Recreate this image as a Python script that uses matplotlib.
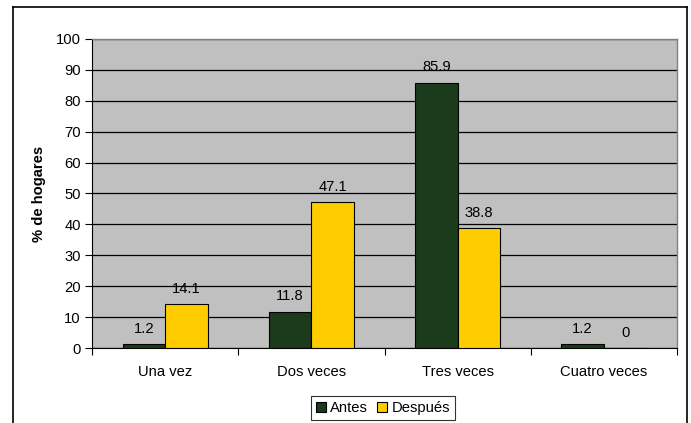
import matplotlib
matplotlib.use("Agg")
import matplotlib.pyplot as plt
import numpy as np
from matplotlib.lines import Line2D

categories = ["Una vez", "Dos veces", "Tres veces", "Cuatro veces"]
antes = [1.2, 11.8, 85.9, 1.2]
despues = [14.1, 47.1, 38.8, 0]
series_names = ["Antes", "Después"]
yticks = list(range(0, 101, 10))

plt.rcParams['font.family'] = ['Liberation Sans', 'DejaVu Sans']
FS = 10.6

fig = plt.figure(figsize=(6.91, 4.23), dpi=100)
ax = fig.add_axes([92/691, 1-348/423, (677-92)/691, (348-39)/423])
ax.set_facecolor('#C0C0C0')

x = np.arange(len(categories))
w = 0.29
c_antes = '#1C3A1C'
c_desp = '#FFCC00'
b1 = ax.bar(x - w/2, antes, w, color=c_antes, edgecolor='black', linewidth=0.8, zorder=3)
b2 = ax.bar(x + w/2, despues, w, color=c_desp, edgecolor='black', linewidth=0.8, zorder=3)

for bars, vals in ((b1, antes), (b2, despues)):
    for r, v in zip(bars, vals):
        lab = f"{v:g}" if v != 0 else "0"
        ax.annotate(lab, (r.get_x() + r.get_width()/2, v), xytext=(0, 11),
                    textcoords='offset points', ha='center', va='center',
                    fontsize=FS, zorder=5)

ax.set_xlim(-0.5, len(categories) - 0.5)
ax.set_ylim(0, 100)
ax.set_yticks(yticks)
ax.set_yticklabels([str(t) for t in yticks], fontsize=FS)
ax.yaxis.grid(True, color='black', linewidth=0.9, zorder=1)
ax.set_axisbelow(True)

ax.set_xticks(np.arange(-0.5, len(categories), 1.0))
ax.set_xticklabels([])
ax.set_xticks(x, minor=True)
ax.set_xticklabels(categories, minor=True, fontsize=FS)
ax.tick_params(axis='x', which='minor', length=0, pad=12)
ax.tick_params(axis='x', which='major', length=5, direction='out', color='black')
ax.tick_params(axis='y', length=5, direction='out', color='black', pad=3)

for s in ['top', 'right']:
    ax.spines[s].set_color('#808080')
    ax.spines[s].set_linewidth(1.0)
ax.spines['left'].set_color('black')
ax.spines['bottom'].set_color('black')

ax.set_ylabel('% de hogares', fontsize=FS, fontweight='bold', labelpad=7)

handles = [plt.Rectangle((0, 0), 1, 1, facecolor=c_antes, edgecolor='black', linewidth=0.8),
           plt.Rectangle((0, 0), 1, 1, facecolor=c_desp, edgecolor='black', linewidth=0.8)]
leg = fig.legend(handles, series_names, loc='upper center',
                 bbox_to_anchor=(383/691, 1-396/423), ncol=2, fontsize=FS,
                 frameon=True, fancybox=False, edgecolor='black',
                 handlelength=0.7, handleheight=0.7, handletextpad=0.3,
                 columnspacing=0.6, borderpad=0.35, borderaxespad=0)
leg.get_frame().set_linewidth(0.8)

# outer chart border
fig.add_artist(Line2D([13/691, 13/691], [0, 1-7/423], transform=fig.transFigure, color='black', lw=1.2))
fig.add_artist(Line2D([13/691, 687/691], [1-7/423, 1-7/423], transform=fig.transFigure, color='black', lw=1.2))
fig.add_artist(Line2D([687/691, 687/691], [0, 1-7/423], transform=fig.transFigure, color='black', lw=1.2))

fig.savefig('out.png', dpi=100)
